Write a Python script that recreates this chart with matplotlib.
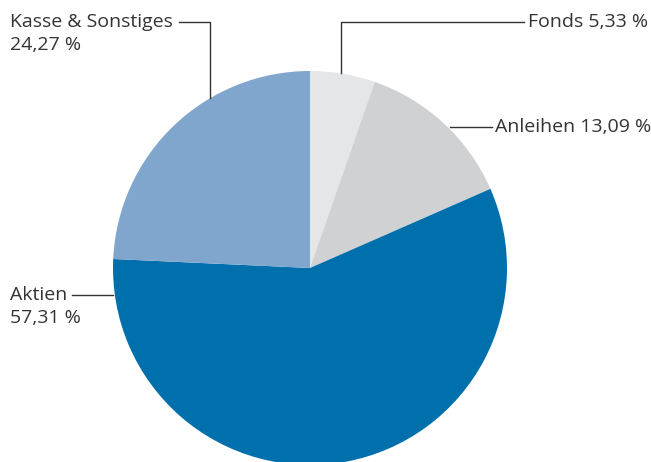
import matplotlib
matplotlib.use('Agg')
import matplotlib.pyplot as plt

## Portfolio split
labels = ['Fonds', 'Anleihen', 'Aktien', 'Kasse & Sonstiges']
shares = [5.33, 13.09, 57.31, 24.27]
names = ['Fonds 5,33 %', 'Anleihen 13,09 %', 'Aktien', 'Kasse & Sonstiges']
values = ['', '', '57,31 %', '24,27 %']
colors = ['#e5e6e8', '#d0d1d3', '#0070ad', '#80a6ce']

plt.rcParams['font.family'] = ['Open Sans', 'DejaVu Sans']

fig = plt.figure(figsize=(6.51, 4.62), dpi=100)
ax = fig.add_axes([0, 0, 1, 1])

# pie in pixel-like coordinates (y up)
cx, cy, r = 310, 194, 197
ax.pie(shares, colors=colors, startangle=90, counterclock=False,
       center=(cx, cy), radius=r, frame=True,
       wedgeprops=dict(linewidth=0))
ax.set_xlim(0, 651)
ax.set_ylim(0, 462)
ax.axis('off')

txt = dict(fontsize=14, color='#333333', va='center', ha='left')
line = dict(color='#333333', lw=1)
gap = 23

# Fonds
ax.plot([341, 341, 524], [389, 440, 440], **line)
ax.text(528, 440, names[0], **txt)
# Anleihen
ax.plot([450, 492], [335, 335], **line)
ax.text(495, 335, names[1], **txt)
# Aktien
ax.plot([72, 113], [167, 167], **line)
ax.text(10, 167, names[2], **txt)
ax.text(10, 167 - gap, values[2], **txt)
# Kasse
ax.plot([179, 210, 210], [440, 440, 364], **line)
ax.text(10, 440, names[3], **txt)
ax.text(10, 440 - gap, values[3], **txt)

fig.savefig('out.png', dpi=100)
